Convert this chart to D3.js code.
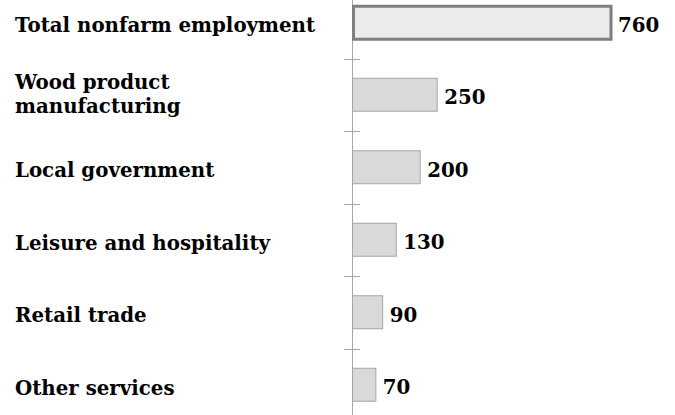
<!DOCTYPE html>
<html><head><meta charset="utf-8">
<script src="https://cdn.jsdelivr.net/npm/d3@7"></script>
<style>body{margin:0;background:#fff}svg{display:block}</style>
</head><body>
<svg id="c" width="675" height="415"></svg>
<script>
const categories = ["Total nonfarm employment", "Wood product manufacturing", "Local government", "Leisure and hospitality", "Retail trade", "Other services"];
const labelLines = [["Total nonfarm employment"], ["Wood product", "manufacturing"], ["Local government"], ["Leisure and hospitality"], ["Retail trade"], ["Other services"]];
const values = [760, 250, 200, 130, 90, 70];

const svg = d3.select("#c");
const font = "'DejaVu Serif', serif";
const fs = 19.8;
const axisX = 352;
const x = d3.scaleLinear().domain([0, 760]).range([axisX, 611]);
const y = d3.scaleBand().domain(categories).range([-14, 421]).paddingInner(0.545).paddingOuter(0.2725);
const band = d3.scaleBand().domain(categories).range([-14, 421]);

// axis
svg.append("line").attr("x1", axisX + 0.5).attr("x2", axisX + 0.5).attr("y1", 0).attr("y2", 415)
  .attr("stroke", "#a6a6a6").attr("stroke-width", 1);
const tickYs = categories.slice(1).map(d => Math.round(band(d)) + 0.5);
svg.selectAll("line.tick").data(tickYs).join("line")
  .attr("x1", axisX - 8).attr("x2", axisX + 8)
  .attr("y1", d => d).attr("y2", d => d)
  .attr("stroke", "#a6a6a6").attr("stroke-width", 1);

// bars
svg.selectAll("rect.bar").data(categories).join("rect")
  .attr("x", (d, i) => i === 0 ? axisX + 1.5 : axisX + 0.5)
  .attr("y", (d, i) => y(d) + (i === 0 ? 0.5 : 0))
  .attr("width", (d, i) => x(values[i]) - axisX - (i === 0 ? 1.5 : 0.5))
  .attr("height", y.bandwidth())
  .attr("fill", (d, i) => i === 0 ? "#ebebeb" : "#d9d9d9")
  .attr("stroke", (d, i) => i === 0 ? "#7f7f7f" : "#a6a6a6")
  .attr("stroke-width", (d, i) => i === 0 ? 3 : 1);

// value labels
svg.selectAll("text.val").data(categories).join("text")
  .attr("x", (d, i) => x(values[i]) + 7)
  .attr("y", d => y(d) + y.bandwidth() / 2 + 9.5)
  .attr("font-family", font).attr("font-weight", "bold").attr("font-size", fs)
  .attr("fill", "#000")
  .text((d, i) => values[i]);

// category labels
categories.forEach((c, i) => {
  const lines = labelLines[i];
  const cy = y(c) + y.bandwidth() / 2;
  const t = svg.append("text").attr("font-family", font).attr("font-weight", "bold")
    .attr("font-size", fs).attr("fill", "#000");
  lines.forEach((ln, j) => {
    t.append("tspan").attr("x", 15)
      .attr("y", lines.length > 1 ? cy - 5.5 + j * 24 : cy + 10)
      .text(ln);
  });
});
</script>
</body></html>
